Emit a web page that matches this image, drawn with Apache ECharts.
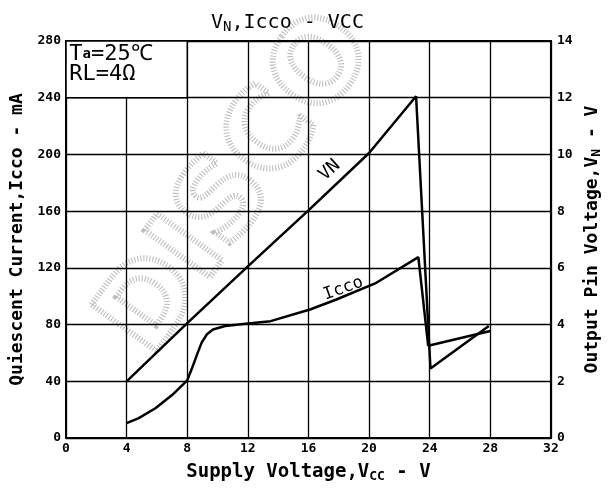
<!DOCTYPE html>
<html>
<head>
  <meta charset="UTF-8" />
  <script src="https://cdn.jsdelivr.net/npm/echarts@6/dist/echarts.min.js"></script>
  <style>
    html, body, #main { margin: 0; padding: 0; width: 100%; height: 100%; background: #fff; }
  </style>
</head>
<body>
  <div id="main"></div>
  <script>
    const chart = echarts.init(document.getElementById('main'));
    const mono = '"DejaVu Sans Mono", "Liberation Mono", monospace';

    // Vcc (V) vs output pin voltage VN (V), right axis
    const vnVcc = [4, 8, 12, 16, 20, 23.1, 24.05, 27.9];
    const vnVal = [2, 4.05, 6.05, 8.03, 10.05, 12.05, 2.45, 3.95];

    // Vcc (V) vs quiescent current Icco (mA), left axis
    const iccVcc = [4, 4.8, 5.9, 7, 8, 8.3, 8.7, 8.95, 9.3, 9.7, 10.5, 12, 13.5, 16.1, 17.8, 20.4, 23.25, 23.9, 28];
    const iccVal = [10.5, 14, 21, 30.3, 40.7, 48.8, 60.4, 67.3, 73.2, 76.5, 79, 80.8, 82.4, 90.6, 97.5, 109, 127.6, 65, 75.5];

    const xTicks = [0, 4, 8, 12, 16, 20, 24, 28, 32];
    const leftTicks = [0, 40, 80, 120, 160, 200, 240, 280];
    const rightTicks = [0, 2, 4, 6, 8, 10, 12, 14];

    const tickStyle = { color: '#000', fontFamily: mono, fontWeight: 'bold', fontSize: 13 };
    const nameRich = {
      sub: { fontFamily: mono, fontWeight: 'bold', fontSize: 13, verticalAlign: 'bottom', padding: [8, 0, 0, 0] }
    };

    chart.setOption({
      animation: false,
      title: {
        text: 'V{sub|N},Icco - VCC',
        left: 206,
        top: 6,
        textStyle: {
          fontFamily: mono, fontSize: 20, color: '#000', fontWeight: 'normal',
          rich: { sub: { fontFamily: mono, fontSize: 14, padding: [9, 0, 0, 0] } }
        }
      },
      graphic: [{
        // scanned watermark
        type: 'text', x: 240, y: 186, rotation: 0.95, silent: true, z: -1,
        style: {
          text: 'DISCO', fontSize: 110, fontWeight: 'bold', fontFamily: 'DejaVu Sans',
          align: 'center', verticalAlign: 'middle',
          fill: 'transparent', stroke: '#bbb', lineWidth: 6, lineDash: [1, 2]
        }
      }],
      grid: { left: 66, right: 53, top: 41, bottom: 45, show: true, borderColor: '#000', borderWidth: 2 },
      xAxis: {
        type: 'value', min: xTicks[0], max: xTicks[xTicks.length - 1], interval: 4,
        name: 'Supply Voltage,V{sub|CC} - V',
        nameLocation: 'middle', nameGap: 24,
        nameTextStyle: { color: '#000', fontFamily: mono, fontWeight: 'bold', fontSize: 19, rich: nameRich },
        axisLine: { lineStyle: { color: '#000', width: 2 } },
        axisTick: { show: false },
        axisLabel: Object.assign({ margin: 4 }, tickStyle),
        splitLine: { show: true, lineStyle: { color: '#000', width: 1.3 } }
      },
      yAxis: [
        {
          type: 'value', min: leftTicks[0], max: leftTicks[leftTicks.length - 1], interval: 40,
          name: 'Quiescent Current,Icco - mA',
          nameLocation: 'middle', nameGap: 36, nameRotate: 90,
          nameTextStyle: { color: '#000', fontFamily: mono, fontWeight: 'bold', fontSize: 18 },
          axisLine: { show: true, lineStyle: { color: '#000', width: 2 } },
          axisTick: { show: false },
          axisLabel: Object.assign({ margin: 5 }, tickStyle),
          splitLine: { show: true, lineStyle: { color: '#000', width: 1.3 } }
        },
        {
          type: 'value', min: rightTicks[0], max: rightTicks[rightTicks.length - 1], interval: 2,
          position: 'right',
          name: 'Output Pin Voltage,V{sub|N} - V',
          nameLocation: 'middle', nameGap: 30, nameRotate: 90,
          nameTextStyle: { color: '#000', fontFamily: mono, fontWeight: 'bold', fontSize: 18, rich: nameRich },
          axisLine: { show: true, lineStyle: { color: '#000', width: 2 } },
          axisTick: { show: false },
          axisLabel: Object.assign({ margin: 6 }, tickStyle),
          splitLine: { show: false }
        }
      ],
      series: [
        {
          name: 'Icco', type: 'line', yAxisIndex: 0, symbol: 'none',
          lineStyle: { color: '#000', width: 2.5 },
          data: iccVcc.map((v, i) => [v, iccVal[i]]),
          markArea: {
            silent: true,
            itemStyle: { color: '#fff', borderColor: '#000', borderWidth: 1.5 },
            label: {
              show: true, position: 'insideTopLeft', distance: 4,
              fontFamily: mono, fontSize: 22, color: '#000', lineHeight: 20,
              formatter: 'T{a|a}=25℃\nRL=4Ω',
              rich: { a: { fontFamily: mono, fontSize: 14, fontWeight: 'bold', color: '#000' } }
            },
            data: [[{ coord: [0, 240] }, { coord: [8, 280] }]]
          },
          markPoint: {
            silent: true, symbol: 'circle', symbolSize: 0,
            label: { show: true, color: '#000', fontFamily: mono, fontSize: 17, rotate: 20, formatter: 'Icco' },
            data: [{ coord: [18.3, 105.4] }]
          }
        },
        {
          name: 'VN', type: 'line', yAxisIndex: 1, symbol: 'none',
          lineStyle: { color: '#000', width: 2.5 },
          data: vnVcc.map((v, i) => [v, vnVal[i]]),
          markPoint: {
            silent: true, symbol: 'circle', symbolSize: 0,
            label: { show: true, color: '#000', fontFamily: mono, fontSize: 18, rotate: 42, formatter: 'VN' },
            data: [{ coord: [17.4, 9.44] }]
          }
        }
      ]
    });
  </script>
</body>
</html>
